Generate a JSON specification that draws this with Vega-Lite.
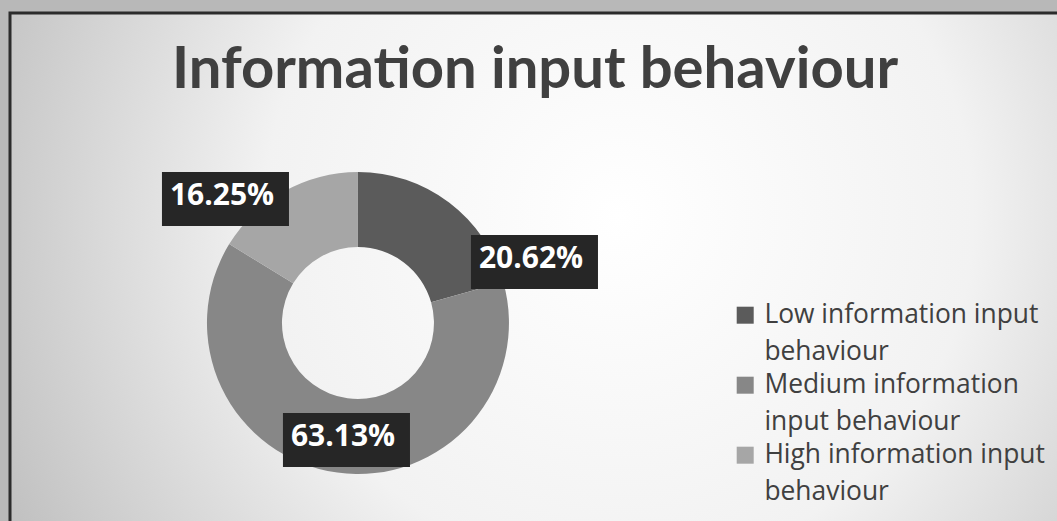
{
  "$schema": "https://vega.github.io/schema/vega-lite/v6.json",
  "width": 1050,
  "height": 512,
  "padding": {"left": 10, "top": 13, "right": 0, "bottom": 0},
  "autosize": {"type": "none"},
  "background": "#b8b8b8",
  "view": {
    "fill": {"gradient": "radial", "x1": 0.58, "y1": 0.45, "r1": 0, "x2": 0.58, "y2": 0.45, "r2": 0.75,
      "stops": [{"offset": 0, "color": "#ffffff"}, {"offset": 0.45, "color": "#f2f2f2"}, {"offset": 1, "color": "#b0b0b0"}]},
    "stroke": "#2b2b2b",
    "strokeWidth": 3
  },
  "title": {
    "text": "Information input behaviour",
    "font": "Lato",
    "fontSize": 58,
    "fontWeight": "bold",
    "color": "#404040",
    "anchor": "middle",
    "baseline": "alphabetic",
    "offset": -133
  },
  "config": {
    "style": {"guide-label": {"lineHeight": 37}}
  },
  "data": {
    "values": [
      {"category": "Low information input behaviour", "value": 20.62, "rank": 1, "label": "20.62%"},
      {"category": "Medium information input behaviour", "value": 63.13, "rank": 2, "label": "63.13%"},
      {"category": "High information input behaviour", "value": 16.25, "rank": 3, "label": "16.25%"}
    ]
  },
  "encoding": {
    "x": {"datum": 0.3314, "type": "quantitative", "scale": {"domain": [0, 1]}, "axis": null},
    "y": {"datum": 0.6055, "type": "quantitative", "scale": {"domain": [0, 1], "reverse": true}, "axis": null}
  },
  "layer": [
    {
      "mark": {"type": "arc", "innerRadius": 76, "outerRadius": 151},
      "encoding": {
        "theta": {"field": "value", "type": "quantitative", "stack": true},
        "order": {"field": "rank", "type": "quantitative"},
        "color": {
          "field": "category",
          "type": "nominal",
          "scale": {
            "domain": ["Low information input behaviour", "Medium information input behaviour", "High information input behaviour"],
            "range": ["#5b5b5b", "#878787", "#a6a6a6"]
          },
          "legend": {
            "orient": "none",
            "legendX": 722,
            "legendY": 289,
            "title": null,
            "padding": 0,
            "symbolType": "square",
            "symbolSize": 289,
            "symbolStrokeWidth": 0,
            "symbolOpacity": 1,
            "labelFont": "Open Sans",
            "labelFontSize": 26.4,
            "labelColor": "#404040",
            "labelLimit": 400,
            "labelOffset": 6,
            "rowPadding": 6,
            "labelExpr": "datum.label == 'Low information input behaviour' ? ['Low information input', 'behaviour'] : datum.label == 'Medium information input behaviour' ? ['Medium information', 'input behaviour'] : ['High information input', 'behaviour']"
          }
        }
      }
    },
    {
      "mark": {"type": "point", "filled": true, "size": 4, "opacity": 0.3, "color": "#555555", "strokeWidth": 0},
      "encoding": {
        "shape": {
          "field": "label",
          "type": "nominal",
          "scale": {
            "domain": ["20.62%", "63.13%", "16.25%"],
            "range": ["M113,-88H240V-34H113Z", "M-75,90H52V144H-75Z", "M-196,-151H-69V-97H-196Z"]
          },
          "legend": null
        }
      }
    },
    {
      "mark": {"type": "point", "filled": true, "size": 4, "opacity": 1, "color": "#262626", "strokeWidth": 0},
      "encoding": {
        "shape": {
          "field": "label",
          "type": "nominal",
          "scale": {
            "domain": ["20.62%", "63.13%", "16.25%"],
            "range": ["M110,-91H236V-38H110Z", "M-78,87H48V140H-78Z", "M-199,-154H-73V-101H-199Z"]
          },
          "legend": null
        }
      }
    },
    {
      "transform": [{"filter": "datum.rank == 1"}],
      "mark": {"type": "text", "font": "Open Sans", "fontSize": 30, "fontWeight": "bold", "color": "#ffffff", "align": "center", "baseline": "middle", "dx": 173, "dy": -64},
      "encoding": {"text": {"field": "label"}}
    },
    {
      "transform": [{"filter": "datum.rank == 2"}],
      "mark": {"type": "text", "font": "Open Sans", "fontSize": 30, "fontWeight": "bold", "color": "#ffffff", "align": "center", "baseline": "middle", "dx": -15, "dy": 114},
      "encoding": {"text": {"field": "label"}}
    },
    {
      "transform": [{"filter": "datum.rank == 3"}],
      "mark": {"type": "text", "font": "Open Sans", "fontSize": 30, "fontWeight": "bold", "color": "#ffffff", "align": "center", "baseline": "middle", "dx": -136, "dy": -127},
      "encoding": {"text": {"field": "label"}}
    }
  ]
}
